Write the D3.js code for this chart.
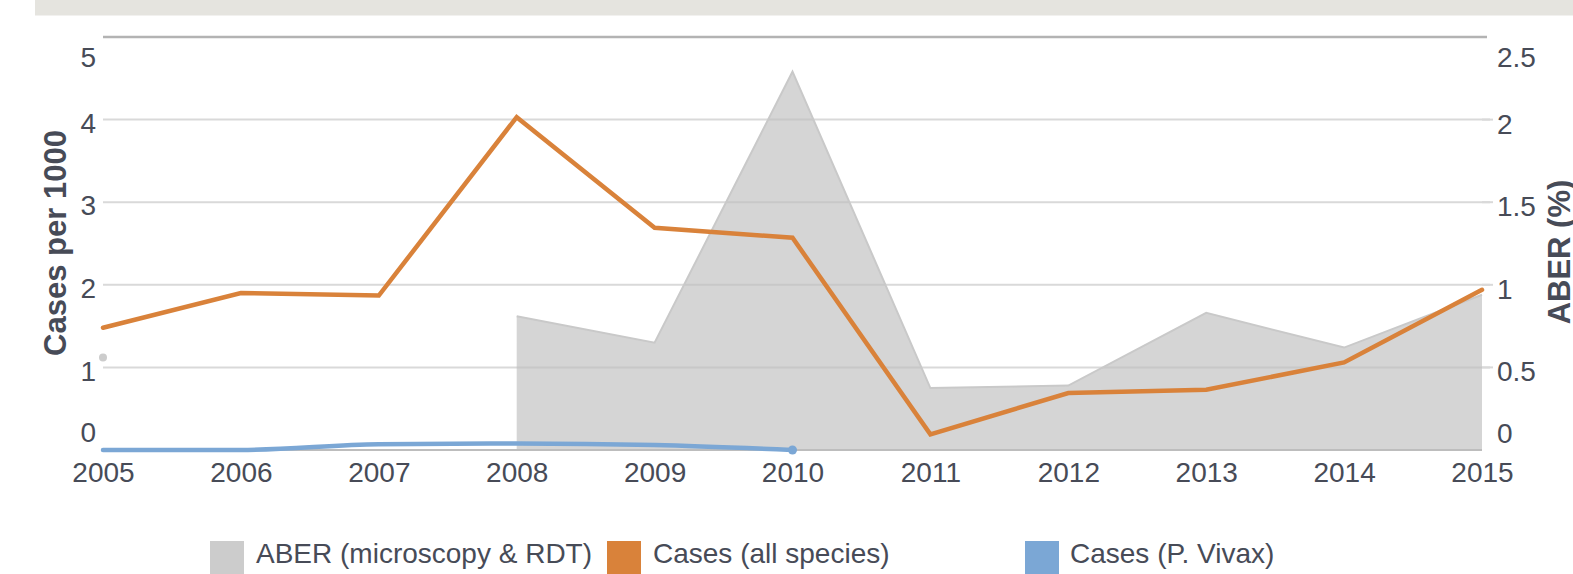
<!DOCTYPE html>
<html><head><meta charset="utf-8">
<script src="https://cdn.jsdelivr.net/npm/d3@7"></script>
<style>
html,body{margin:0;padding:0;background:#fff;overflow:hidden;}
text{font-family:Arial,"Liberation Sans",sans-serif;}
</style></head>
<body>
<svg id="chart" width="1573" height="574"></svg>
<script>
const years = [2005,2006,2007,2008,2009,2010,2011,2012,2013,2014,2015];
const casesAll = [1.48,1.90,1.87,4.03,2.69,2.57,0.19,0.69,0.73,1.06,1.94];
const casesVivax = [0.0,0.0,0.07,0.08,0.06,0.0,null,null,null,null,null];
const aber = [0.56,null,null,0.81,0.65,2.29,0.375,0.39,0.83,0.62,0.94];
const leftTicks = [0,1,2,3,4,5];
const rightTicks = [0,0.5,1,1.5,2,2.5];
const xTicks = years;
const seriesNames = ["ABER (microscopy & RDT)","Cases (all species)","Cases (P. Vivax)"];
const seriesColors = ["#cccccc","#d9823a","#7ba7d5"];

const svg = d3.select("#chart");
const textColor = "#474b57";

// header band
svg.append("rect").attr("x",35).attr("y",0).attr("width",1538).attr("height",15.5).attr("fill","#e5e4df");

const x = d3.scaleLinear().domain([2005,2015]).range([103,1482]);
const yL = d3.scaleLinear().domain([0,5]).range([450,37]);
const yR = d3.scaleLinear().domain([0,2.5]).range([450,37]);

// gridlines
svg.append("g").selectAll("line").data(leftTicks.filter(d=>d>0&&d<5)).join("line")
  .attr("x1",103).attr("x2",1490).attr("y1",d=>yL(d)).attr("y2",d=>yL(d))
  .attr("stroke","#d9d9d9").attr("stroke-width",2);
svg.append("line").attr("x1",103).attr("x2",1487).attr("y1",yL(5)).attr("y2",yL(5))
  .attr("stroke","#b3b3b3").attr("stroke-width",2.5);

// ABER area
const aberData = years.map((y,i)=>({x:y,v:aber[i]}));
const aberSeg = aberData.filter(d=>d.x>=2008);
const area = d3.area().defined(d=>d.v!=null).x(d=>x(d.x)).y0(yR(0)).y1(d=>yR(d.v));
svg.append("path").datum(aberSeg).attr("d",area).attr("fill","#bfbfbf").attr("fill-opacity",0.65);
svg.append("path").datum(aberSeg).attr("d",d3.line().defined(d=>d.v!=null).x(d=>x(d.x)).y(d=>yR(d.v)))
  .attr("fill","none").attr("stroke","#c9c9c9").attr("stroke-width",2);
// isolated ABER point
svg.append("g").selectAll("circle").data(aberData.filter((d,i)=>d.v!=null && (i===0||aber[i-1]==null) && (i===aber.length-1||aber[i+1]==null))).join("circle")
  .attr("cx",d=>x(d.x)).attr("cy",d=>yR(d.v)).attr("r",4).attr("fill","#cccccc");

// baseline
svg.append("line").attr("x1",103).attr("x2",1482).attr("y1",yL(0)).attr("y2",yL(0))
  .attr("stroke","#bdbdbd").attr("stroke-width",2);

// vivax line
const vivData = years.map((y,i)=>({x:y,v:casesVivax[i]})).filter(d=>d.v!=null);
svg.append("path").datum(vivData)
  .attr("d",d3.line().x(d=>x(d.x)).y(d=>yL(d.v)).curve(d3.curveMonotoneX))
  .attr("fill","none").attr("stroke",seriesColors[2]).attr("stroke-width",4.5).attr("stroke-linecap","round");
svg.append("circle").attr("cx",x(vivData[vivData.length-1].x)).attr("cy",yL(vivData[vivData.length-1].v))
  .attr("r",4.5).attr("fill",seriesColors[2]);

// cases all
const allData = years.map((y,i)=>({x:y,v:casesAll[i]}));
svg.append("path").datum(allData)
  .attr("d",d3.line().x(d=>x(d.x)).y(d=>yL(d.v)))
  .attr("fill","none").attr("stroke",seriesColors[1]).attr("stroke-width",4.5)
  .attr("stroke-linejoin","miter").attr("stroke-linecap","round");

// left axis
const gL = svg.append("g").attr("transform","translate(96,0)")
  .call(d3.axisLeft(yL).tickValues(leftTicks).tickSize(0).tickPadding(0).tickFormat(d3.format("d")));
gL.select(".domain").remove();
gL.selectAll("text").attr("font-size",28).attr("fill",textColor).style("font-family","Arial, 'Liberation Sans', sans-serif")
  .attr("dy",d=> d===5 ? "1.05em" : d===0 ? "-0.3em" : "0.45em");

// right axis
const gR = svg.append("g").attr("transform","translate(1497,0)")
  .call(d3.axisRight(yR).tickValues(rightTicks).tickSize(0).tickPadding(0).tickFormat(d=>String(d)));
gR.select(".domain").remove();
gR.selectAll("text").attr("font-size",28).attr("fill",textColor).style("font-family","Arial, 'Liberation Sans', sans-serif")
  .attr("dy",d=> d===2.5 ? "1.05em" : d===0 ? "-0.27em" : "0.48em");
// small right ticks
svg.append("g").selectAll("line").data(rightTicks.filter(d=>d>0&&d<2.5)).join("line")
  .attr("x1",1482).attr("x2",1493).attr("y1",d=>yR(d)).attr("y2",d=>yR(d)).attr("stroke","#d9d9d9").attr("stroke-width",2);

// x axis
const gX = svg.append("g").attr("transform","translate(0,450)")
  .call(d3.axisBottom(x).tickValues(xTicks).tickSize(0).tickPadding(0).tickFormat(d3.format("d")));
gX.select(".domain").remove();
gX.selectAll("text").attr("font-size",28).attr("fill",textColor).style("font-family","Arial, 'Liberation Sans', sans-serif")
  .attr("dy","0").attr("y",32);

// axis titles
svg.append("text").attr("transform","translate(66,243) rotate(-90)").attr("text-anchor","middle")
  .attr("font-size",31).attr("font-weight","bold").attr("fill",textColor).text("Cases per 1000");
svg.append("text").attr("transform","translate(1570,252) rotate(-90)").attr("text-anchor","middle")
  .attr("font-size",31).attr("font-weight","bold").attr("fill",textColor).text("ABER (%)");

// legend
const legendX = [210,607,1025];
const lg = svg.append("g").selectAll("g").data(seriesNames).join("g")
  .attr("transform",(d,i)=>`translate(${legendX[i]},541)`);
lg.append("rect").attr("width",34).attr("height",40).attr("fill",(d,i)=>seriesColors[i]);
lg.append("text").attr("x",(d,i)=>i===2?45:46).attr("y",22).attr("font-size",28).attr("fill",textColor).text(d=>d);
</script>
</body></html>
